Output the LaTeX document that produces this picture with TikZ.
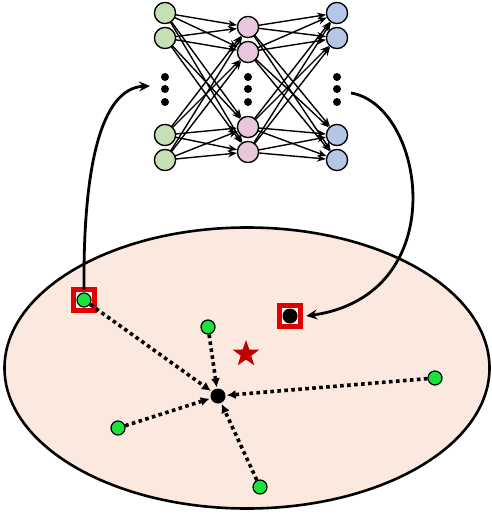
\documentclass[tikz,border=0pt]{standalone}
\usetikzlibrary{arrows.meta,shapes.geometric}
\definecolor{nngreen}{HTML}{C5E0B4}
\definecolor{nnpink}{HTML}{E8C6DC}
\definecolor{nnblue}{HTML}{B4C7E7}
\definecolor{peach}{HTML}{FBE9E0}
\definecolor{ptgreen}{HTML}{1BE33B}
\definecolor{boxred}{HTML}{E00000}
\definecolor{starred}{HTML}{C00000}
\tikzset{
  neuron/.style={circle,draw=black,line width=1.2pt,minimum size=21pt,inner sep=0pt},
  gn/.style={neuron,fill=nngreen},
  pn/.style={neuron,fill=nnpink},
  bn/.style={neuron,fill=nnblue},
  vdot/.style={circle,fill=black,minimum size=8pt,inner sep=0pt},
  nnedge/.style={line width=1.4pt,-{Stealth[length=9pt,width=7pt]}},
  gpt/.style={circle,draw=black,line width=1.2pt,fill=ptgreen,minimum size=14pt,inner sep=0pt},
  bpt/.style={circle,fill=black,minimum size=15pt,inner sep=0pt},
  redbox/.style={draw=boxred,line width=5.5pt,fill=white,minimum size=21pt,inner sep=0pt},
  dotarrow/.style={line width=3.6pt,dash pattern=on 3.6pt off 3.4pt,-{Latex[length=9pt,width=9pt]},shorten >=1pt},
  bigarrow/.style={line width=2.8pt,-{Stealth[length=11pt,width=10pt,inset=4pt]}}
}
\begin{document}
\begin{tikzpicture}[x=1pt,y=-1pt]
\useasboundingbox (0,0) rectangle (492,514);
% ellipse
\node[ellipse,draw=black,line width=2.6pt,fill=peach,minimum width=485pt,minimum height=281pt,inner sep=0pt] (space) at (247,368) {};
% neural net
\node[gn] (g1) at (165,13) {};
\node[gn] (g2) at (165,38) {};
\node[gn] (g3) at (165,135) {};
\node[gn] (g4) at (165,160) {};
\node[pn] (p1) at (248,27) {};
\node[pn] (p2) at (248,52) {};
\node[pn] (p3) at (248,127) {};
\node[pn] (p4) at (248,152) {};
\node[bn] (b1) at (337,13) {};
\node[bn] (b2) at (337,38) {};
\node[bn] (b3) at (337,135) {};
\node[bn] (b4) at (337,160) {};
\foreach \c/\n in {165/g,248/p,337/b}{
  \node[vdot] (\n d1) at (\c,77) {};
  \node[vdot] (\n d2) at (\c,89) {};
  \node[vdot] (\n d3) at (\c,102) {};
}
\foreach \i in {1,...,4}{
  \foreach \j in {1,...,4}{
    \draw[nnedge] (g\i.center) -- (p\j);
    \draw[nnedge] (p\i.center) -- (b\j);
  }
}
\foreach \n in {g,p,b}{
  \foreach \i in {1,...,4}{
    \node[\n n] at (\n\i) {};
  }
}
% points
\node[redbox] (boxA) at (84,300) {};
\node[gpt] (a) at (84,300) {};
\node[redbox] (boxB) at (290,316) {};
\node[bpt] (q) at (290,316) {};
\node[gpt] (c) at (208,327) {};
\node[gpt] (d) at (435,378) {};
\node[gpt] (e) at (118,428) {};
\node[gpt] (f) at (260,487) {};
\node[bpt] (m) at (218,396) {};
\node[star,star points=5,star point ratio=2.5,fill=starred,minimum size=28pt,inner sep=0pt] (st) at (246,354) {};
% dotted arrows
\draw[dotarrow] (a) -- (m);
\draw[dotarrow] (c) -- (m);
\draw[dotarrow] (d) -- (m);
\draw[dotarrow] (e) -- (m);
\draw[dotarrow] (f) -- (m);
% curved arrows
\coordinate (inTip) at (150,86);
\coordinate (outStart) at (351,93);
\draw[bigarrow] ([yshift=-3pt]boxA.north) .. controls (83,170) and (100,88) .. (inTip);
\draw[bigarrow] (outStart) .. controls (425,105) and (455,295) .. ([xshift=3pt]boxB.east);
\end{tikzpicture}
\end{document}
